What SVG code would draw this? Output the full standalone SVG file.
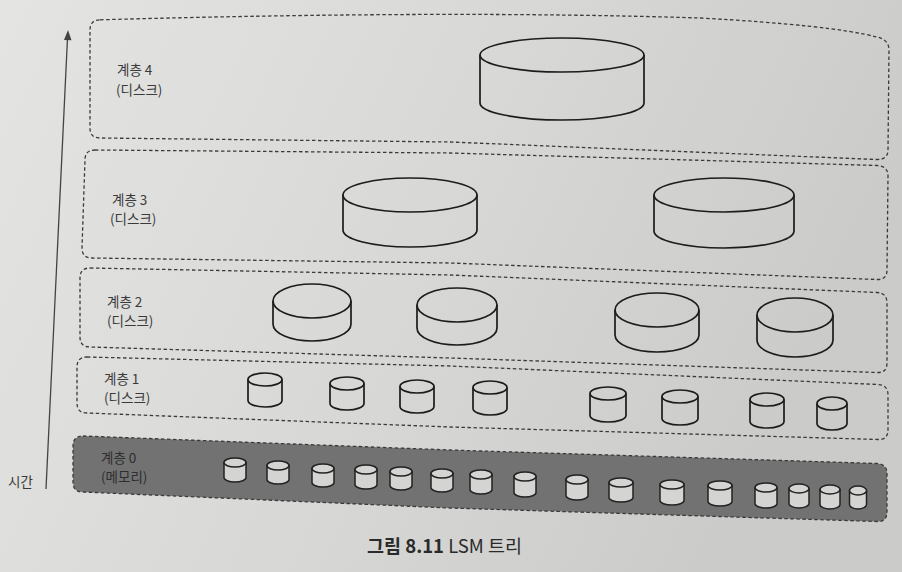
<svg xmlns="http://www.w3.org/2000/svg" width="902" height="572" viewBox="0 0 902 572">
<defs>
<linearGradient id="bg" x1="0" y1="0" x2="1" y2="0.3">
<stop offset="0" stop-color="#e4e4e2"/>
<stop offset="0.5" stop-color="#d9d9d7"/>
<stop offset="1" stop-color="#cbcbc9"/>
</linearGradient>
<style>
.box{fill:none;stroke:#3a3a3a;stroke-width:1.3;stroke-dasharray:3.5 2.5}
.box0{fill:#727272;stroke:#3a3a3a;stroke-width:1.3;stroke-dasharray:3.5 2.5}
.cyl{fill:none;stroke:#1c1c1c;stroke-width:1.7}
.c0{fill:#d4d4d2;stroke:#222;stroke-width:1.5}
.lbl{font-family:"Noto Sans CJK KR","Noto Sans",sans-serif;font-size:13.5px;fill:#3a3a3a}
.lbl0{font-family:"Noto Sans CJK KR","Noto Sans",sans-serif;font-size:13.5px;fill:#2e2e2e}
.cap{font-family:"Noto Sans CJK KR","Noto Sans",sans-serif;font-size:18.5px;fill:#2a2a2a}
</style>
</defs>
<rect width="902" height="572" fill="url(#bg)"/>

<g id="connectors">
<line x1="67.5" y1="38" x2="46" y2="489" stroke="#444" stroke-width="1.3"/>
<polygon points="68,30 64,40 71.5,40.3" fill="#444"/>
</g>
<text class="lbl" x="8" y="487">시간</text>

<g id="layer4">
<path class="box" d="M100,19.8 Q450,10 700,18 Q830,25 877,37 Q889,40 889,50 L888,150 Q888,160 876,159.5 L450,142 L100,138 Q90,138 90,128 L90,30 Q90,20 100,19.8 Z"/>
<text class="lbl" x="117" y="75">계층 4</text>
<text class="lbl" x="116" y="95">(디스크)</text>
<path class="cyl" d="M480,55 V103 A82,17 0 0 0 644,103 V55"/>
<ellipse class="cyl" cx="562" cy="55" rx="82" ry="17"/>
</g>

<g id="layer3">
<path class="box" d="M95,150 L450,153 L877,165.5 Q888,166 888,176 L887,270 Q887,280 877,279.5 L450,263 L92,258 Q82,258 82,248 L85,160 Q85,150 95,150 Z"/>
<text class="lbl" x="112" y="205">계층 3</text>
<text class="lbl" x="110" y="224">(디스크)</text>
<path class="cyl" d="M343,195 V230 A67,17 0 0 0 477,230 V195"/>
<ellipse class="cyl" cx="410" cy="195" rx="67" ry="17"/>
<path class="cyl" d="M654,195 V231 A70,17 0 0 0 794,231 V195"/>
<ellipse class="cyl" cx="724" cy="195" rx="70" ry="17"/>
</g>

<g id="layer2">
<path class="box" d="M90,268 L450,275 L877,292.5 Q887,293 887,303 L887,363 Q887,373 877,372.5 L450,358 L90,347 Q80,347 80,337 L80,278 Q80,268 90,268 Z"/>
<text class="lbl" x="107" y="307">계층 2</text>
<text class="lbl" x="107" y="326">(디스크)</text>
<path class="cyl" d="M273,301 V324 A39,17 0 0 0 351,324 V301"/>
<ellipse class="cyl" cx="312" cy="301" rx="39" ry="17"/>
<path class="cyl" d="M417,305 V328 A40,17 0 0 0 497,328 V305"/>
<ellipse class="cyl" cx="457" cy="305" rx="40" ry="17"/>
<path class="cyl" d="M615,310 V335 A42,17 0 0 0 699,335 V310"/>
<ellipse class="cyl" cx="657" cy="310" rx="42" ry="17"/>
<path class="cyl" d="M757,315 V340 A38,17 0 0 0 833,340 V315"/>
<ellipse class="cyl" cx="795" cy="315" rx="38" ry="17"/>
</g>

<g id="layer1">
<path class="box" d="M87,357 L450,366 L878,384.5 Q888,385 888,395 L888,430 Q888,440 878,439.5 L450,427 L87,413 Q77,413 77,403 L77,367 Q77,357 87,357 Z"/>
<text class="lbl" x="104" y="384">계층 1</text>
<text class="lbl" x="104" y="403">(디스크)</text>
<path class="cyl" d="M248,379.5 V400.5 A17,6.5 0 0 0 282,400.5 V379.5"/>
<ellipse class="cyl" cx="265" cy="379.5" rx="17" ry="6.5"/>
<path class="cyl" d="M330,383.5 V403.5 A17,6.5 0 0 0 364,403.5 V383.5"/>
<ellipse class="cyl" cx="347" cy="383.5" rx="17" ry="6.5"/>
<path class="cyl" d="M400,386.5 V406.5 A17,6.5 0 0 0 434,406.5 V386.5"/>
<ellipse class="cyl" cx="417" cy="386.5" rx="17" ry="6.5"/>
<path class="cyl" d="M473,387.5 V408.5 A17,6.5 0 0 0 507,408.5 V387.5"/>
<ellipse class="cyl" cx="490" cy="387.5" rx="17" ry="6.5"/>
<path class="cyl" d="M590,393.5 V415.5 A18,6.5 0 0 0 626,415.5 V393.5"/>
<ellipse class="cyl" cx="608" cy="393.5" rx="18" ry="6.5"/>
<path class="cyl" d="M662,396.5 V418.5 A18,6.5 0 0 0 698,418.5 V396.5"/>
<ellipse class="cyl" cx="680" cy="396.5" rx="18" ry="6.5"/>
<path class="cyl" d="M750,399.5 V421.5 A17,6.5 0 0 0 784,421.5 V399.5"/>
<ellipse class="cyl" cx="767" cy="399.5" rx="17" ry="6.5"/>
<path class="cyl" d="M817,403.5 V423.5 A15,6.5 0 0 0 847,423.5 V403.5"/>
<ellipse class="cyl" cx="832" cy="403.5" rx="15" ry="6.5"/>
</g>

<g id="layer0">
<path class="box0" d="M83,436 L450,450 L877,463.5 Q887,464 887,474 L887,512 Q887,522 877,521.5 L450,508 L83,492 Q73,492 73,482 L73,446 Q73,436 83,436 Z"/>
<text class="lbl0" x="101" y="463">계층 0</text>
<text class="lbl0" x="101" y="482">(메모리)</text>
<path class="c0" d="M224,462.5 V477.5 A11,4.5 0 0 0 246,477.5 V462.5 Z"/><ellipse class="c0" cx="235" cy="462.5" rx="11" ry="4.5"/>
<path class="c0" d="M267,465.5 V479.5 A11,4.5 0 0 0 289,479.5 V465.5 Z"/><ellipse class="c0" cx="278" cy="465.5" rx="11" ry="4.5"/>
<path class="c0" d="M312,468.5 V482.5 A11,4.5 0 0 0 334,482.5 V468.5 Z"/><ellipse class="c0" cx="323" cy="468.5" rx="11" ry="4.5"/>
<path class="c0" d="M355,469.5 V484.5 A11,4.5 0 0 0 377,484.5 V469.5 Z"/><ellipse class="c0" cx="366" cy="469.5" rx="11" ry="4.5"/>
<path class="c0" d="M390,471.5 V485.5 A11,4.5 0 0 0 412,485.5 V471.5 Z"/><ellipse class="c0" cx="401" cy="471.5" rx="11" ry="4.5"/>
<path class="c0" d="M431,473.5 V487.5 A11,4.5 0 0 0 453,487.5 V473.5 Z"/><ellipse class="c0" cx="442" cy="473.5" rx="11" ry="4.5"/>
<path class="c0" d="M470,474.5 V489.5 A11,4.5 0 0 0 492,489.5 V474.5 Z"/><ellipse class="c0" cx="481" cy="474.5" rx="11" ry="4.5"/>
<path class="c0" d="M514,476.5 V492.5 A11,4.5 0 0 0 536,492.5 V476.5 Z"/><ellipse class="c0" cx="525" cy="476.5" rx="11" ry="4.5"/>
<path class="c0" d="M566,479.5 V495.5 A11,4.5 0 0 0 588,495.5 V479.5 Z"/><ellipse class="c0" cx="577" cy="479.5" rx="11" ry="4.5"/>
<path class="c0" d="M609,482.5 V497.5 A12,4.5 0 0 0 633,497.5 V482.5 Z"/><ellipse class="c0" cx="621" cy="482.5" rx="12" ry="4.5"/>
<path class="c0" d="M660,484.5 V500.5 A12,4.5 0 0 0 684,500.5 V484.5 Z"/><ellipse class="c0" cx="672" cy="484.5" rx="12" ry="4.5"/>
<path class="c0" d="M708,485.5 V501.5 A12,4.5 0 0 0 732,501.5 V485.5 Z"/><ellipse class="c0" cx="720" cy="485.5" rx="12" ry="4.5"/>
<path class="c0" d="M755,487.5 V503.5 A11,4.5 0 0 0 777,503.5 V487.5 Z"/><ellipse class="c0" cx="766" cy="487.5" rx="11" ry="4.5"/>
<path class="c0" d="M789,488.5 V503.5 A10,4.5 0 0 0 809,503.5 V488.5 Z"/><ellipse class="c0" cx="799" cy="488.5" rx="10" ry="4.5"/>
<path class="c0" d="M820,489.5 V504.5 A10,4.5 0 0 0 840,504.5 V489.5 Z"/><ellipse class="c0" cx="830" cy="489.5" rx="10" ry="4.5"/>
<path class="c0" d="M849.5,490.5 V504.5 A8.5,4.5 0 0 0 866.5,504.5 V490.5 Z"/><ellipse class="c0" cx="858" cy="490.5" rx="8.5" ry="4.5"/>
</g>

<text class="cap" x="367" y="553"><tspan font-weight="bold">그림 8.11</tspan> LSM 트리</text>
</svg>
